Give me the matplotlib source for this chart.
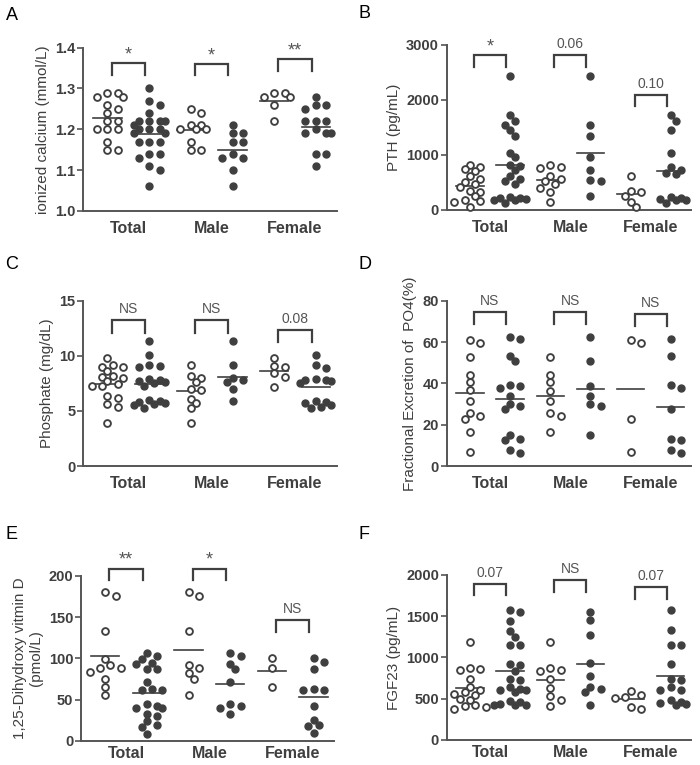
import numpy as np
import matplotlib
matplotlib.use('Agg')
import matplotlib.pyplot as plt

plt.rcParams['font.family'] = ['Liberation Sans', 'DejaVu Sans']

groups = ['Total', 'Male', 'Female']

# A - ionized calcium (mmol/L): [Total, Male, Female]
ca_open = [[1.29, 1.29, 1.28, 1.28, 1.26, 1.25, 1.24, 1.22, 1.22, 1.20, 1.20, 1.20, 1.17, 1.15, 1.15],
           [1.25, 1.24, 1.21, 1.21, 1.20, 1.20, 1.20, 1.17, 1.15, 1.15],
           [1.29, 1.29, 1.28, 1.28, 1.26, 1.22]]
ca_filled = [[1.30, 1.27, 1.26, 1.24, 1.22, 1.22, 1.22, 1.22, 1.21, 1.20, 1.20, 1.20, 1.19, 1.19,
              1.17, 1.17, 1.17, 1.14, 1.14, 1.13, 1.11, 1.10, 1.06],
             [1.21, 1.19, 1.19, 1.17, 1.17, 1.14, 1.13, 1.13, 1.10, 1.06],
             [1.28, 1.26, 1.26, 1.25, 1.22, 1.22, 1.22, 1.20, 1.19, 1.19, 1.19, 1.14, 1.14, 1.11]]
ca_sig = ['*', '*', '**']

# B - PTH (pg/mL)
pth_open = [[820, 790, 740, 700, 610, 560, 500, 470, 420, 350, 330, 250, 180, 160, 150, 50],
            [820, 780, 760, 620, 560, 520, 470, 400, 320, 150],
            [620, 340, 330, 260, 150, 50]]
pth_filled = [[2440, 1720, 1620, 1550, 1450, 1340, 1040, 960, 820, 800, 720, 610, 560, 530, 480,
               230, 220, 210, 200, 190, 180, 120],
              [2440, 1550, 1340, 960, 720, 550, 520, 250],
              [1720, 1620, 1450, 1040, 790, 730, 680, 650, 230, 220, 200, 190, 180, 120]]
pth_sig = ['*', '0.06', '0.10']

# C - phosphate (mg/dL)
phos_open = [[9.8, 9.2, 9.0, 9.0, 8.6, 8.2, 8.1, 8.0, 7.7, 7.4, 7.3, 7.3, 6.4, 6.2, 5.6, 5.4, 3.9],
             [9.2, 8.2, 8.0, 7.6, 7.0, 6.9, 6.1, 5.7, 5.3, 3.9],
             [9.8, 9.1, 9.0, 8.4, 8.1, 7.2]]
phos_filled = [[11.3, 10.1, 9.2, 9.1, 9.0, 7.9, 7.8, 7.7, 7.6, 7.5, 7.3, 6.0, 5.9, 5.8, 5.7, 5.6, 5.5, 5.3],
               [11.3, 9.2, 8.0, 7.8, 7.6, 7.0, 5.9],
               [10.1, 9.2, 8.9, 7.9, 7.8, 7.8, 7.7, 7.5, 5.9, 5.8, 5.7, 5.5, 5.4, 5.3]]
phos_sig = ['NS', 'NS', '0.08']

# D - fractional excretion of PO4 (%)
fe_open = [[61.0, 59.5, 52.6, 44.1, 40.8, 36.8, 31.5, 25.5, 24.2, 22.8, 16.6, 6.9],
           [52.6, 44.1, 40.5, 36.5, 31.5, 25.5, 24.2, 16.6],
           [60.8, 59.5, 22.8, 6.9]]
fe_filled = [[62.6, 61.6, 53.4, 51.0, 39.2, 38.7, 37.6, 33.9, 30.0, 29.0, 27.4, 14.8, 13.1, 12.4, 7.8, 6.5],
             [62.6, 51.0, 38.7, 33.9, 30.0, 29.0, 14.8],
             [61.6, 53.4, 39.2, 37.6, 27.4, 13.1, 12.4, 7.8, 6.5]]
fe_sig = ['NS', 'NS', 'NS']

# E - 1,25-dihydroxy vitamin D (pmol/L)
vitd_open = [[181, 176, 133, 99, 92, 88, 88, 84, 75, 66, 56],
             [181, 176, 133, 92, 88, 82, 75, 56],
             [100, 88, 66]]
vitd_filled = [[107, 103, 99, 95, 93, 87, 87, 71, 63, 62, 62, 45, 43, 40, 40, 33, 30, 24, 19, 17, 9],
               [107, 103, 93, 87, 71, 45, 43, 40, 33],
               [100, 96, 87, 63, 62, 62, 43, 25, 19, 18, 10]]
vitd_sig = ['**', '*', 'NS']

# F - FGF23 (pg/mL)
fgf_open = [[1190, 870, 860, 850, 740, 640, 610, 580, 560, 540, 500, 480, 420, 410, 400, 370],
            [1190, 870, 850, 840, 735, 625, 535, 485, 410],
            [590, 550, 520, 510, 400, 380]]
fgf_filled = [[1570, 1550, 1440, 1320, 1250, 1150, 1150, 920, 910, 840, 740, 730, 640, 620, 600, 600,
               580, 470, 460, 440, 430, 430, 420],
              [1555, 1455, 1275, 930, 775, 640, 615, 585, 425],
              [1570, 1330, 1150, 1150, 920, 740, 730, 640, 600, 600, 480, 460, 450, 440, 430]]
fgf_sig = ['0.07', 'NS', '0.07']

GRIS = '#3f3f3f'
GRIS_AXE = '#555555'


# Disposition en essaim (style Prism) calculée en pixels
def swarm_x(ax, xc, vals, step=5.2, diam=6.8, kmax=3):
    vals = np.asarray(vals, dtype=float)
    pts = ax.transData.transform(np.column_stack([np.full(len(vals), xc), vals]))
    x0 = pts[0, 0]
    ys = pts[:, 1]
    order = np.argsort(-ys, kind='stable')
    placed = []
    offs = np.zeros(len(vals))
    cands = [0.0]
    for k in range(1, kmax + 1):
        cands += [k * step, -k * step]
    for i in order:
        best, best_d = None, -1
        for off in cands:
            dmin = min([np.hypot(off - px, ys[i] - py) for px, py in placed] + [99])
            if dmin >= diam:
                best = off
                break
            if dmin > best_d:
                best, best_d = off, dmin
        placed.append((best, ys[i]))
        offs[i] = best
    back = ax.transData.inverted().transform(np.column_stack([x0 + offs, ys]))
    return back[:, 0]


def draw_panel(ax, open_data, filled_data, sig, brackets, ylim, yticks, ylabel, fmt, letter, xpad=7):
    ax.set_xlim(-0.54, 2.5)
    ax.set_ylim(*ylim)
    for g in range(3):
        for data, dx, filled in [(open_data[g], -0.25, False), (filled_data[g], 0.25, True)]:
            xs = swarm_x(ax, g + dx, data)
            if filled:
                ax.plot(xs, data, 'o', ms=5.0, color=GRIS, mec=GRIS, clip_on=False, zorder=3)
            else:
                ax.plot(xs, data, 'o', ms=4.9, mfc='white', mec=GRIS, mew=1.35, clip_on=False, zorder=3)
            m = np.mean(data)
            ax.plot([g + dx - 0.17, g + dx + 0.17], [m, m], color=GRIS, lw=1.2, zorder=2)
        top, bot = brackets[g]
        ax.plot([g - 0.2, g - 0.2, g + 0.2, g + 0.2], [bot, top, top, bot],
                color=GRIS, lw=1.6, clip_on=False, solid_joinstyle='miter')
        if '*' in sig[g]:
            ax.annotate(sig[g], xy=(g, top), xytext=(0, 0), textcoords='offset points',
                        ha='center', va='bottom', fontsize=13, color='#555555', annotation_clip=False)
        else:
            ax.annotate(sig[g], xy=(g, top), xytext=(0, 3), textcoords='offset points',
                        ha='center', va='bottom', fontsize=10, color='#555555', annotation_clip=False)

    ax.set_yticks(yticks)
    ax.set_yticklabels([fmt.format(t) for t in yticks], fontweight='bold', fontsize=10.5, color=GRIS)
    ax.set_xticks(range(3))
    ax.set_xticklabels(groups, fontweight='bold', fontsize=11.5, color=GRIS)
    ax.tick_params(axis='x', length=0, pad=xpad)
    ax.tick_params(axis='y', length=4, width=1.2, color=GRIS_AXE, pad=1.5)
    ax.set_ylabel(ylabel, fontsize=11, color=GRIS, labelpad=4)

    ax.spines['top'].set_visible(False)
    ax.spines['right'].set_visible(False)
    for sp in ['left', 'bottom']:
        ax.spines[sp].set_color(GRIS_AXE)
        ax.spines[sp].set_linewidth(1.4)

    # Lettre du panneau
    fig.text(letter[1], letter[2], letter[0], fontsize=13, color='black', ha='left', va='center')


fig = plt.figure(figsize=(7, 7.65), dpi=100)

W_L, W_R = 0.362, 0.349
ax_a = fig.add_axes([0.119, 0.7242, W_L, 0.2135])
ax_b = fig.add_axes([0.638, 0.7255, W_R, 0.2157])
ax_c = fig.add_axes([0.119, 0.3908, W_L, 0.2161])
ax_d = fig.add_axes([0.638, 0.3908, W_R, 0.2161])
ax_e = fig.add_axes([0.1157, 0.0314, W_L, 0.2157])
ax_f = fig.add_axes([0.638, 0.0327, W_R, 0.2157])

draw_panel(ax_a, ca_open, ca_filled, ca_sig,
           [(1.362, 1.333), (1.36, 1.333), (1.372, 1.344)],
           (1.0, 1.4), [1.0, 1.1, 1.2, 1.3, 1.4], 'ionized calcium (mmol/L)', '{:.1f}',
           ('A', 0.008, 0.980))
draw_panel(ax_b, pth_open, pth_filled, pth_sig,
           [(2818, 2606), (2818, 2606), (2090, 1890)],
           (0, 3000), [0, 1000, 2000, 3000], 'PTH (pg/mL)', '{:.0f}',
           ('B', 0.512, 0.983))
draw_panel(ax_c, phos_open, phos_filled, phos_sig,
           [(13.25, 12.04), (13.25, 12.04), (12.34, 11.28)],
           (0, 15), [0, 5, 10, 15], 'Phosphate (mg/dL)', '{:.0f}',
           ('C', 0.008, 0.654))
draw_panel(ax_d, fe_open, fe_filled, fe_sig,
           [(74.4, 68.7), (74.4, 68.7), (73.4, 68.0)],
           (0, 80), [0, 20, 40, 60, 80], 'Fractional Excretion of  PO4(%)', '{:.0f}',
           ('D', 0.512, 0.654))
draw_panel(ax_e, vitd_open, vitd_filled, vitd_sig,
           [(208.5, 195), (208.5, 195), (146.7, 132.5)],
           (0, 200), [0, 50, 100, 150, 200], '1,25-Dihydroxy vitmin D\n(pmol/L)', '{:.0f}',
           ('E', 0.008, 0.301), xpad=3.5)
draw_panel(ax_f, fgf_open, fgf_filled, fgf_sig,
           [(1891, 1757), (1939, 1790), (1858, 1709)],
           (0, 2000), [0, 500, 1000, 1500, 2000], 'FGF23 (pg/mL)', '{:.0f}',
           ('F', 0.512, 0.301), xpad=3.5)

fig.savefig('out.png', dpi=100)
